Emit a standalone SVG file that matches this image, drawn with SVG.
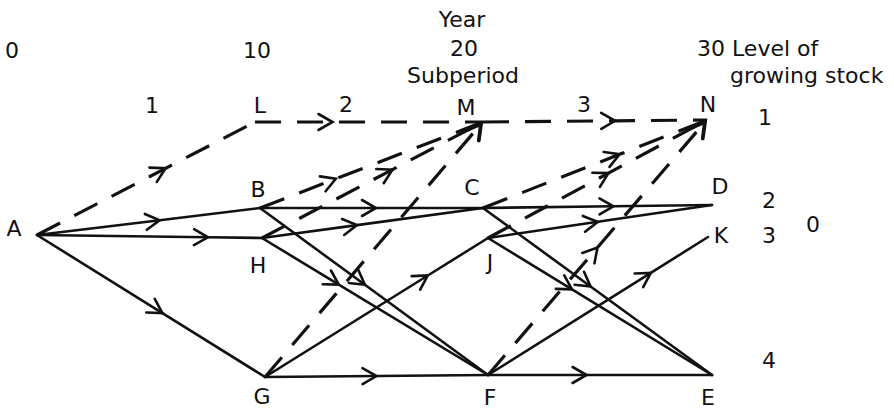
<svg xmlns="http://www.w3.org/2000/svg" width="894" height="411" viewBox="0 0 894 411">
<style>
text{font-family:"DejaVu Sans","Open Sans",sans-serif;font-size:22px;fill:#111}
.s{fill:none;stroke:#111;stroke-width:2.6;stroke-linecap:round;marker-mid:url(#ar)}
.d{fill:none;stroke:#111;stroke-width:3.2;stroke-dasharray:26 16;marker-mid:url(#ar)}
.e{marker-end:url(#ah)}
</style>
<defs>
<marker id="ar" markerUnits="userSpaceOnUse" viewBox="-17 -11 19 22" refX="0" refY="0" markerWidth="19" markerHeight="22" orient="auto" overflow="visible">
<path d="M-14,-8 L0,0 L-14,8" fill="none" stroke="#111" stroke-width="2.6" stroke-dasharray="none" stroke-linecap="round"/>
</marker>
<marker id="ah" markerUnits="userSpaceOnUse" viewBox="-17 -11 19 22" refX="0" refY="0" markerWidth="19" markerHeight="22" orient="auto" overflow="visible">
<path d="M-16,-8 L0,0 L-14,9" fill="none" stroke="#111" stroke-width="3.8" stroke-dasharray="none" stroke-linecap="round"/>
</marker>
</defs>
<g id="labels">
<text x="12" y="58" text-anchor="middle">0</text>
<text x="257" y="58" text-anchor="middle">10</text>
<text x="462" y="27" text-anchor="middle">Year</text>
<text x="464" y="56" text-anchor="middle">20</text>
<text x="463" y="83" text-anchor="middle">Subperiod</text>
<text x="697" y="56">30 Level of</text>
<text x="730" y="83">growing stock</text>
<text x="152" y="113" text-anchor="middle">1</text>
<text x="346" y="112" text-anchor="middle">2</text>
<text x="584" y="112" text-anchor="middle">3</text>
<text x="765" y="125" text-anchor="middle">1</text>
<text x="769" y="208" text-anchor="middle">2</text>
<text x="769" y="243" text-anchor="middle">3</text>
<text x="769" y="368" text-anchor="middle">4</text>
<text x="813" y="232" text-anchor="middle">0</text>
</g>
<g id="connectors">
<path class="s" d="M37,235 L159.7,220.2 L260,208"/>
<path class="s" d="M37,235 L208,237.3 L262,238"/>
<path class="s" d="M37,235 L162.4,313.1 L265,377"/>
<path class="s" d="M260,208 L376,208 L483,208"/>
<path class="s" d="M262,238 L357,225.1 L483,208"/>
<path class="s" d="M260,208 L364.9,284.8 L488,375"/>
<path class="s" d="M262,238 L338.8,284.6 L488,375"/>
<path class="s" d="M265,377 L427.8,275.5 L488,238"/>
<path class="s" d="M265,377 L376.5,376 L488,375"/>
<path class="s" d="M483,208 L613.5,206.3 L712,205"/>
<path class="s" d="M488,238 L597.8,221.8 L712,205"/>
<path class="s" d="M483,208 L590.6,286.5 L712,375"/>
<path class="s" d="M488,238 L572,289.4 L712,375"/>
<path class="s" d="M488,375 L650.8,272.9 L708,237"/>
<path class="s" d="M488,375 L586.6,375 L712,375"/>
<path class="d" d="M37,235 L165.6,168.3 L255,122"/>
<path class="d" d="M255,122 L332.5,122 L483,122"/>
<path class="d" d="M483,122 L615.2,120.8 L707,120"/>
<path class="d" d="M260,208 L335.8,178.8 L483,122"/>
<path class="d" d="M262,238 L392.4,169.6 L483,122"/>
<path class="d e" d="M265,377 L481,124"/>
<path class="d" d="M483,208 L619.6,154.3 L707,120"/>
<path class="d" d="M488,238 L608.5,173.1 L707,120"/>
<path class="d e" d="M488,375 L597.5,247.5 L705,122"/>
</g>
<g id="node-A"><text x="14" y="236" text-anchor="middle">A</text></g>
<g id="node-L"><text x="260" y="113" text-anchor="middle">L</text></g>
<g id="node-M"><text x="466" y="115" text-anchor="middle">M</text></g>
<g id="node-N"><text x="708" y="112" text-anchor="middle">N</text></g>
<g id="node-B"><text x="258" y="197" text-anchor="middle">B</text></g>
<g id="node-C"><text x="472" y="195" text-anchor="middle">C</text></g>
<g id="node-D"><text x="720" y="194" text-anchor="middle">D</text></g>
<g id="node-H"><text x="258" y="273" text-anchor="middle">H</text></g>
<g id="node-J"><text x="490" y="270" text-anchor="middle">J</text></g>
<g id="node-K"><text x="721" y="243" text-anchor="middle">K</text></g>
<g id="node-G"><text x="262" y="404" text-anchor="middle">G</text></g>
<g id="node-F"><text x="490" y="405" text-anchor="middle">F</text></g>
<g id="node-E"><text x="708" y="405" text-anchor="middle">E</text></g>
</svg>
